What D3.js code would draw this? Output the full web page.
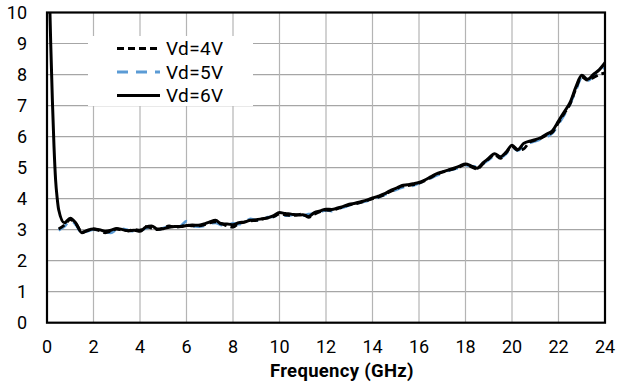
<!DOCTYPE html>
<html>
<head>
<meta charset="utf-8">
<script src="https://cdn.jsdelivr.net/npm/d3@7"></script>
<style>
  body { margin: 0; background: #fff; }
  text { font-family: Roboto, "Liberation Sans", sans-serif; fill: #000; }
</style>
</head>
<body>
<div class="container"></div>
<script>
// sample frequencies (GHz)
var freq = [0.5, 0.75,
    1, 1.25, 1.5, 1.75, 2, 2.25, 2.5, 2.75, 3, 3.25, 3.5, 3.75, 4, 4.25, 4.5, 4.75,
    5, 5.25, 5.5, 5.75, 6, 6.25, 6.5, 6.75, 7, 7.25, 7.5, 7.75, 8, 8.25, 8.5, 8.75,
    9, 9.25, 9.5, 9.75, 10, 10.25, 10.5, 10.75, 11, 11.25, 11.5, 11.75, 12, 12.25, 12.5, 12.75,
    13, 13.25, 13.5, 13.75, 14, 14.25, 14.5, 14.75, 15, 15.25, 15.5, 15.75, 16, 16.25, 16.5, 16.75,
    17, 17.25, 17.5, 17.75, 18, 18.25, 18.5, 18.75, 19, 19.25, 19.5, 19.75, 20, 20.25, 20.5, 20.75,
    21, 21.25, 21.5, 21.75, 22, 22.25, 22.5, 22.75, 23, 23.25, 23.5, 23.75, 24];

var vd4 = [3.02, 3.15,
    3.32, 3.18, 2.92, 2.97, 3.02, 2.97, 2.9, 2.95, 3.02, 2.98, 2.97, 3.0, 2.98, 3.1, 3.05, 3.0,
    3.05, 3.12, 3.08, 3.1, 3.15, 3.12, 3.12, 3.15, 3.22, 3.25, 3.2, 3.12, 3.08, 3.2, 3.24, 3.28,
    3.3, 3.34, 3.38, 3.42, 3.5, 3.48, 3.45, 3.48, 3.5, 3.4, 3.5, 3.58, 3.63, 3.62, 3.68, 3.73,
    3.8, 3.83, 3.88, 3.93, 4.0, 4.05, 4.12, 4.22, 4.3, 4.4, 4.42, 4.45, 4.5, 4.58, 4.68, 4.78,
    4.85, 4.9, 4.96, 5.02, 5.1, 5.02, 4.95, 5.12, 5.28, 5.42, 5.3, 5.48, 5.68, 5.56, 5.6, 5.82,
    5.88, 5.95, 6.05, 6.15, 6.45, 6.75, 7.05, 7.55, 7.92, 7.82, 7.9, 8.0, 8.05];

var vd5 = [2.98, 3.1,
    3.3, 3.15, 2.88, 2.95, 3.0, 2.98, 2.93, 2.9, 3.0, 3.02, 2.98, 2.95, 2.96, 3.05, 3.08, 3.0,
    3.05, 3.1, 3.08, 3.12, 3.27, 3.12, 3.1, 3.12, 3.2, 3.22, 3.15, 3.15, 3.2, 3.18, 3.22, 3.35,
    3.3, 3.32, 3.4, 3.42, 3.48, 3.45, 3.47, 3.5, 3.45, 3.5, 3.52, 3.58, 3.62, 3.6, 3.68, 3.72,
    3.78, 3.82, 3.88, 3.92, 3.98, 4.05, 4.12, 4.2, 4.28, 4.35, 4.4, 4.42, 4.5, 4.58, 4.66, 4.75,
    4.82, 4.9, 4.95, 5.0, 5.08, 5.05, 5.02, 5.12, 5.25, 5.38, 5.32, 5.45, 5.65, 5.55, 5.7, 5.8,
    5.85, 5.92, 6.0, 6.12, 6.4, 6.7, 7.05, 7.5, 7.9, 7.8, 7.95, 8.1, 8.25];

// Vd=6V has a steep start below 0.5 GHz
var vd6HeadFreq = [0.1, 0.16, 0.23, 0.3, 0.37, 0.44];
var vd6Head = [10.8, 9.0, 7.2, 5.7, 4.6, 4.0];
var vd6 = [3.65, 3.22,
    3.37, 3.2, 2.9, 2.98, 3.02, 3.0, 2.95, 2.98, 3.04, 3.0, 2.96, 2.98, 2.95, 3.08, 3.12, 3.02,
    3.03, 3.08, 3.1, 3.1, 3.13, 3.15, 3.14, 3.18, 3.25, 3.3, 3.18, 3.18, 3.16, 3.22, 3.25, 3.3,
    3.32, 3.35, 3.38, 3.45, 3.55, 3.52, 3.5, 3.47, 3.48, 3.42, 3.55, 3.6, 3.66, 3.65, 3.7, 3.75,
    3.82, 3.85, 3.9, 3.95, 4.02, 4.08, 4.15, 4.25, 4.33, 4.42, 4.45, 4.48, 4.52, 4.6, 4.7, 4.8,
    4.86, 4.92, 4.98, 5.05, 5.12, 5.05, 4.98, 5.15, 5.3, 5.45, 5.35, 5.5, 5.72, 5.58, 5.78, 5.85,
    5.9, 5.97, 6.08, 6.2, 6.5, 6.8, 7.1, 7.6, 7.98, 7.85, 8.0, 8.15, 8.38];

var xTicks = [0, 2, 4, 6, 8, 10, 12, 14, 16, 18, 20, 22, 24];
var yTicks = [0, 1, 2, 3, 4, 5, 6, 7, 8, 9, 10];
var seriesNames = ['Vd=4V', 'Vd=5V', 'Vd=6V'];

var WIDTH = 617, HEIGHT = 383;
var LEFT = 47, RIGHT = 605, TOP = 12.5, BOTTOM = 322.7;

var xScale = d3.scaleLinear().domain([0, 24]).range([LEFT, RIGHT]);
var yScale = d3.scaleLinear().domain([0, 10]).range([BOTTOM, TOP]);

var toPoints = function (xs, ys) {
    return xs.map(function (x, i) { return {x: x, y: ys[i]}; });
};

var styles = [
    {stroke: '#000', dash: '7,4', width: 2.8},
    {stroke: '#5b9bd5', dash: '11,8', width: 2.8},
    {stroke: '#000', dash: null, width: 3}
];

var visualize = function () {
    var svg = d3.select('.container').append('svg')
        .attr('width', WIDTH)
        .attr('height', HEIGHT);

    svg.append('defs').append('clipPath').attr('id', 'plotClip')
        .append('rect')
        .attr('x', LEFT).attr('y', TOP)
        .attr('width', RIGHT - LEFT).attr('height', BOTTOM - TOP);

    // grid
    svg.append('g').selectAll('line.h')
        .data(yTicks.slice(1))
        .enter().append('line')
        .attr('x1', LEFT).attr('x2', RIGHT)
        .attr('y1', function (d) { return yScale(d); })
        .attr('y2', function (d) { return yScale(d); })
        .attr('stroke', '#a6a6a6').attr('stroke-width', 1.2);
    svg.append('g').selectAll('line.v')
        .data(xTicks.slice(1))
        .enter().append('line')
        .attr('x1', function (d) { return xScale(d); })
        .attr('x2', function (d) { return xScale(d); })
        .attr('y1', TOP).attr('y2', BOTTOM)
        .attr('stroke', '#b4b4b4').attr('stroke-width', 1.2);

    // lines
    var line = d3.line()
        .x(function (d) { return xScale(d.x); })
        .y(function (d) { return yScale(d.y); })
        .curve(d3.curveMonotoneX);

    var seriesData = [
        toPoints(freq, vd4),
        toPoints(freq, vd5),
        toPoints(vd6HeadFreq.concat(freq), vd6Head.concat(vd6))
    ];

    var lines = svg.append('g').attr('clip-path', 'url(#plotClip)');
    [1, 0, 2].forEach(function (i) {
        lines.append('path')
            .datum(seriesData[i])
            .attr('d', line)
            .attr('fill', 'none')
            .attr('stroke', styles[i].stroke)
            .attr('stroke-width', styles[i].width)
            .attr('stroke-dasharray', styles[i].dash)
            .attr('stroke-linejoin', 'round');
    });

    // frame
    svg.append('rect')
        .attr('x', LEFT).attr('y', TOP)
        .attr('width', RIGHT - LEFT).attr('height', BOTTOM - TOP)
        .attr('fill', 'none').attr('stroke', '#000').attr('stroke-width', 2.2);

    // tick labels
    svg.append('g').selectAll('text')
        .data(yTicks)
        .enter().append('text')
        .attr('x', 27)
        .attr('y', function (d) { return yScale(d) + 6.5; })
        .attr('text-anchor', 'end')
        .style('font-size', '18px')
        .text(function (d) { return d; });
    svg.append('g').selectAll('text')
        .data(xTicks)
        .enter().append('text')
        .attr('x', function (d) { return xScale(d); })
        .attr('y', 353)
        .attr('text-anchor', 'middle')
        .style('font-size', '18px')
        .text(function (d) { return d; });

    svg.append('text')
        .attr('x', 270).attr('y', 377)
        .style('font-size', '18.5px')
        .style('font-weight', 'bold')
        .style('letter-spacing', '0.3px')
        .text('Frequency (GHz)');

    // legend
    var legend = svg.append('g');
    legend.append('rect')
        .attr('x', 88).attr('y', 36).attr('width', 165).attr('height', 70)
        .attr('fill', '#fff');
    seriesNames.forEach(function (name, i) {
        var y = 48.5 + i * 23.5;
        legend.append('line')
            .attr('x1', 117).attr('x2', 160)
            .attr('y1', y).attr('y2', y)
            .attr('stroke', styles[i].stroke)
            .attr('stroke-width', styles[i].width)
            .attr('stroke-dasharray', styles[i].dash);
        legend.append('text')
            .attr('x', 166).attr('y', y + 6.5)
            .style('font-size', '19px')
            .style('letter-spacing', '0.4px')
            .text(name);
    });
};

window.onload = visualize;
</script>
</body>
</html>
